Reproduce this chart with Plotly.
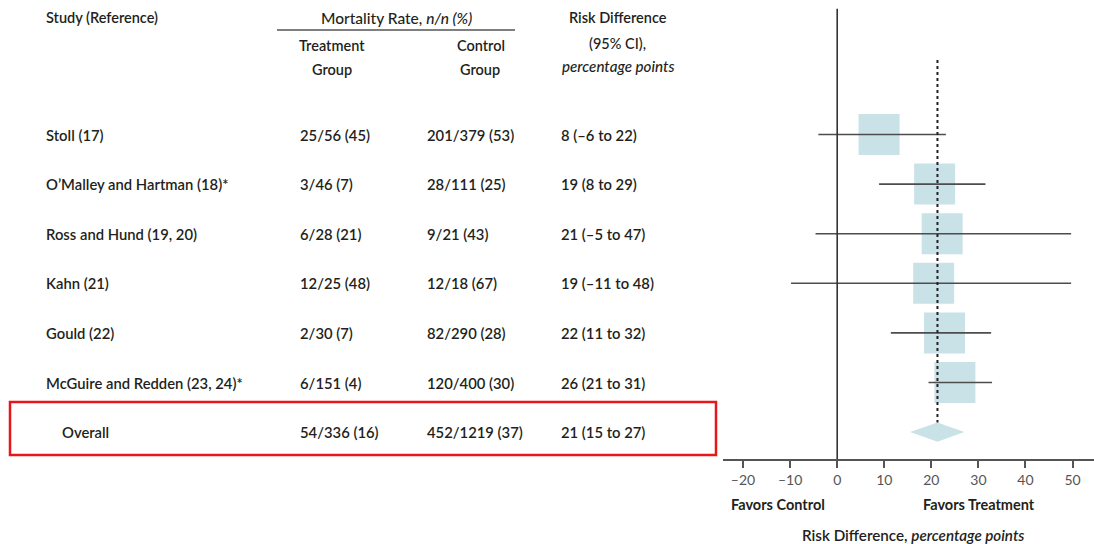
import plotly.graph_objects as go

# ---------------- data ----------------
studies = ["Stoll (17)", "O\u2019Malley and Hartman (18)*", "Ross and Hund (19, 20)",
           "Kahn (21)", "Gould (22)", "McGuire and Redden (23, 24)*"]
treatment = ["25/56 (45)", "3/46 (7)", "6/28 (21)", "12/25 (48)", "2/30 (7)", "6/151 (4)"]
control = ["201/379 (53)", "28/111 (25)", "9/21 (43)", "12/18 (67)", "82/290 (28)", "120/400 (30)"]
rd_text = ["8 (\u20136 to 22)", "19 (8 to 29)", "21 (\u20135 to 47)", "19 (\u201311 to 48)",
           "22 (11 to 32)", "26 (21 to 31)"]
# plotted positions (percentage points)
est = [8.9, 20.7, 22.3, 20.5, 22.8, 25.0]
lo = [-4.0, 8.9, -4.6, -9.8, 11.4, 19.4]
hi = [23.1, 31.5, 49.7, 49.7, 32.7, 32.9]

overall_label = "Overall"
overall_treat = "54/336 (16)"
overall_ctrl = "452/1219 (37)"
overall_rd_text = "21 (15 to 27)"
overall_est, overall_lo, overall_hi = 21.3, 15.5, 27.0

tick_vals = [-20, -10, 0, 10, 20, 30, 40, 50]
tick_text = ["\u201320", "\u201310", "0", "10", "20", "30", "40", "50"]

# ---------------- layout helpers ----------------
W, H = 1094, 544
def px(x):
    return x / W
def py(y):
    return 1 - y / H

FONT = "Lato"
TXT = "#231f20"
rows = list(range(len(studies)))
overall_row = len(studies)
DIAM_H = 0.195

fig = go.Figure()

# squares
fig.add_trace(go.Scatter(x=est, y=rows, mode="markers",
                         marker=dict(symbol="square", size=41, color="#c9e2e8",
                                     line=dict(width=0)),
                         hoverinfo="skip", showlegend=False))
# diamond
fig.add_trace(go.Scatter(x=[overall_lo, overall_est, overall_hi, overall_est, overall_lo],
                         y=[overall_row, overall_row - DIAM_H, overall_row, overall_row + DIAM_H, overall_row],
                         mode="lines", fill="toself", fillcolor="#c9e2e8",
                         line=dict(width=0, color="#c9e2e8"),
                         hoverinfo="skip", showlegend=False))
# CI lines
ci_x, ci_y = [], []
for r, a, b in zip(rows, lo, hi):
    ci_x += [a, b, None]
    ci_y += [r, r, None]
fig.add_trace(go.Scatter(x=ci_x, y=ci_y, mode="lines",
                         line=dict(color="#4d4d4d", width=1.6),
                         hoverinfo="skip", showlegend=False))

# zero line
fig.add_shape(type="line", xref="x", yref="paper", x0=0, x1=0,
              y0=py(459), y1=py(8.7), line=dict(color="#333333", width=1.6), layer="above")
# overall dotted line
fig.add_shape(type="line", xref="x", yref="y", x0=overall_est, x1=overall_est,
              y0=-1.502, y1=overall_row - DIAM_H,
              line=dict(color="#222222", width=2, dash="3px,3px"), layer="above")

# red highlight box
fig.add_shape(type="rect", xref="paper", yref="paper", x0=px(10), x1=px(716),
              y0=py(455), y1=py(402), line=dict(color="#e8161b", width=2.5))
# header rule
fig.add_shape(type="line", xref="paper", yref="paper", x0=px(277), x1=px(515),
              y0=py(30), y1=py(30), line=dict(color="#555555", width=1.3))

ann = []
def add_text(text, x, y, xanchor="left", yref="paper", size=14.8, weight=600, color=TXT):
    ann.append(dict(text=text, x=x, y=y, xref="paper", yref=yref, xanchor=xanchor,
                    yanchor="middle", showarrow=False,
                    font=dict(family=FONT, size=size, color=color, weight=weight)))

HS = 14.5
# header
add_text("Study (Reference)", px(44), py(18), size=HS)
add_text("Mortality Rate, <i>n/n (%)</i>", px(396), py(18), xanchor="center", size=15.5, weight=500)
add_text("Treatment", px(332), py(45), xanchor="center", size=HS)
add_text("Group", px(332), py(69), xanchor="center", size=HS)
add_text("Control", px(481), py(45), xanchor="center", size=HS)
add_text("Group", px(480), py(69), xanchor="center", size=HS)
add_text("Risk Difference", px(618), py(18), xanchor="center", size=HS)
add_text("(95% CI),", px(617), py(43), xanchor="center", size=HS, weight=500)
add_text("<i>percentage points</i>", px(618), py(66), xanchor="center", size=15.2, weight=500)

for r, s, t, c, d in zip(rows, studies, treatment, control, rd_text):
    add_text(s, px(44), r, yref="y")
    add_text(t, px(298), r, yref="y")
    add_text(c, px(425), r, yref="y")
    add_text(d, px(559), r, yref="y")
add_text(overall_label, px(60), overall_row, yref="y")
add_text(overall_treat, px(298), overall_row, yref="y")
add_text(overall_ctrl, px(425), overall_row, yref="y")
add_text(overall_rd_text, px(559), overall_row, yref="y")

# bottom labels
add_text("Favors Control", px(729), py(504), weight=700, size=14.5)
add_text("Favors Treatment", px(921), py(504), weight=700, size=14.5)
add_text("Risk Difference, <i>percentage points</i>", px(913), py(535), xanchor="center", size=15.2, weight=600)

x_lo = (723 - 837.2) / 4.707
x_hi = (1094 - 837.2) / 4.707
row_lo = (459 - 134.5) / 49.6
row_hi = (0 - 134.5) / 49.6

fig.update_layout(
    width=W, height=H,
    margin=dict(l=0, r=0, t=0, b=0),
    paper_bgcolor="white", plot_bgcolor="white",
    showlegend=False,
    annotations=ann,
    xaxis=dict(domain=[px(723), 1.0], range=[x_lo, x_hi],
               tickvals=tick_vals, ticktext=tick_text,
               showline=True, linecolor="#555555", linewidth=1.6,
               ticks="outside", ticklen=7, tickwidth=1.5, tickcolor="#555555",
               tickfont=dict(family=FONT, size=14, color="#555555"),
               showgrid=False, zeroline=False, fixedrange=True),
    yaxis=dict(domain=[py(459), 1.0], range=[row_lo, row_hi],
               visible=False, showgrid=False, zeroline=False, fixedrange=True),
)

fig.write_html("out.html", config={"displayModeBar": False},
               post_script="document.body.style.margin='0';document.body.style.overflow='hidden';")
